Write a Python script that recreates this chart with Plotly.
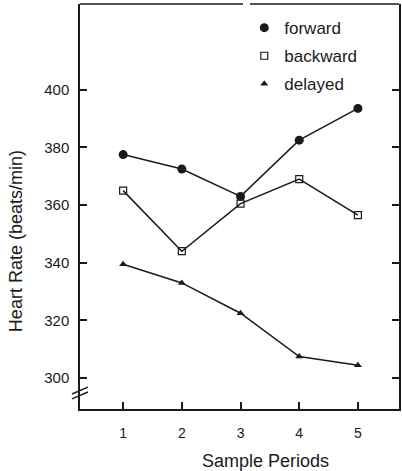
import plotly.graph_objects as go

periods = [1, 2, 3, 4, 5]
forward = [377.5, 372.5, 363.0, 382.5, 393.5]
backward = [365.0, 344.0, 360.5, 369.0, 356.5]
delayed = [339.5, 333.0, 322.5, 307.5, 304.5]
y_ticks = [300, 320, 340, 360, 380, 400]
x_ticks = [1, 2, 3, 4, 5]

FONT = "Liberation Sans"
INK = "#1a1a1a"

fig = go.Figure()
series = [
    ("forward", forward, dict(symbol="circle", size=9, color=INK)),
    ("backward", backward, dict(symbol="square-open", size=7, color=INK, line=dict(width=1.2, color=INK))),
    ("delayed", delayed, dict(symbol="triangle-up", size=7, color=INK)),
]
for name, vals, mk in series:
    fig.add_trace(go.Scatter(x=periods, y=vals, mode="lines+markers", name=name,
                             line=dict(color=INK, width=1.5), marker=mk, showlegend=False))
for name, vals, mk in series:
    fig.add_trace(go.Scatter(x=[None], y=[None], mode="markers", name=name, marker=mk,
                             legendgroup=name, showlegend=True))

fig.update_layout(
    width=402, height=471,
    margin=dict(l=80, r=3, t=4, b=62),
    paper_bgcolor="white", plot_bgcolor="white",
    font=dict(family=FONT, color=INK, size=14),
    legend=dict(x=0.515, y=0.985, xanchor="left", yanchor="top",
                font=dict(size=17, family=FONT, color=INK),
                bgcolor="rgba(0,0,0,0)", tracegroupgap=3, itemwidth=30),
    xaxis=dict(range=[0.265, 5.70], tickvals=x_ticks, ticks="inside", ticklen=7,
               tickcolor=INK, tickwidth=1.5, showline=True, linecolor=INK, linewidth=1.5,
               showgrid=False, zeroline=False, tickfont=dict(size=14, color=INK),
               ticklabelstandoff=10),
    yaxis=dict(range=[289.3, 429.7], tickvals=y_ticks, ticks="inside", ticklen=7,
               tickcolor=INK, tickwidth=1.5, showline=True, linecolor=INK, linewidth=1.5,
               showgrid=False, zeroline=False, tickfont=dict(size=15, color=INK),
               ticklabelstandoff=6),
    yaxis2=dict(range=[289.3, 429.7], tickvals=y_ticks, ticks="inside", ticklen=7,
                tickcolor=INK, tickwidth=1.5, showline=True, linecolor=INK, linewidth=1.5,
                showticklabels=False, showgrid=False, zeroline=False,
                overlaying="y", side="right"),
)
# dummy trace to activate right axis
fig.add_trace(go.Scatter(x=[None], y=[None], yaxis="y2", showlegend=False))

# top border with a small gap
fig.add_shape(type="line", xref="paper", yref="paper", x0=0, x1=0.511, y0=1, y1=1,
              line=dict(color=INK, width=1.5))
fig.add_shape(type="line", xref="paper", yref="paper", x0=0.533, x1=1, y0=1, y1=1,
              line=dict(color=INK, width=1.5))
# axis break marks
for y0, y1 in ((294.5, 296.9), (292.8, 295.2)):
    fig.add_shape(type="line", xref="paper", yref="y",
                  x0=-0.025, x1=0.025, y0=y0, y1=y1,
                  line=dict(color=INK, width=1.5))

fig.add_annotation(text="Sample Periods", xref="paper", yref="paper", x=0.58, y=-0.128,
                   showarrow=False, font=dict(size=18, family=FONT, color=INK),
                   xanchor="center", yanchor="middle")
fig.add_annotation(text="Heart Rate (beats/min)", xref="paper", yref="paper", x=-0.2, y=0.415,
                   textangle=-90, showarrow=False, font=dict(size=18, family=FONT, color=INK),
                   xanchor="center", yanchor="middle")

fig.write_html("out.html")
